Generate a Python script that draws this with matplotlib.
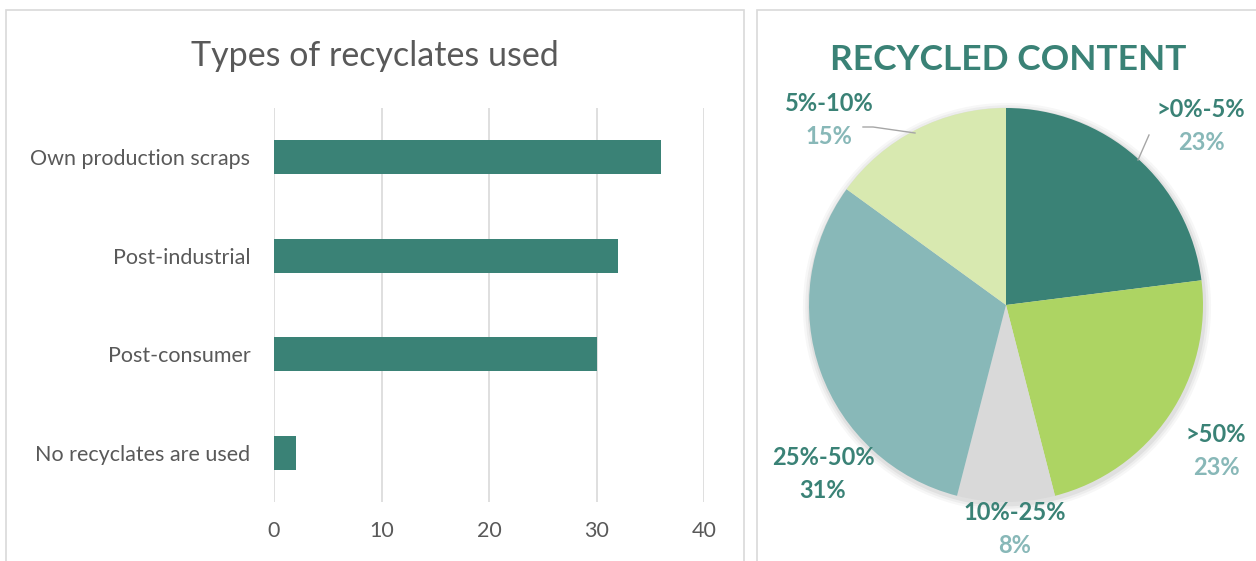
import numpy as np
import matplotlib.pyplot as plt
from matplotlib.patches import Rectangle

plt.rcParams['font.family'] = ['Lato', 'DejaVu Sans']

# bar chart data
types = ["Own production scraps", "Post-industrial", "Post-consumer", "No recyclates are used"]
counts = [36, 32, 30, 2]

# pie chart data (clockwise from 12 o'clock)
content_labels = [">0%-5%", ">50%", "10%-25%", "25%-50%", "5%-10%"]
content_pct = [23, 23, 8, 31, 15]

teal = "#3A8276"
light_teal = "#88B8B8"
pie_colors = [teal, "#ADD463", "#D9D9D9", light_teal, "#D8E9B0"]

W, H = 1256, 561
fig = plt.figure(figsize=(W / 100, H / 100), dpi=100)

# panel frames
for x0, x1 in [(6, 744), (757, 1262)]:
    fig.patches.append(Rectangle((x0 / W, -0.05), (x1 - x0) / W, (H - 10) / H + 0.05,
                                 transform=fig.transFigure, fill=False,
                                 edgecolor="#D9D9D9", linewidth=1.2))

# ---- left: horizontal bars ----
ax = fig.add_axes([274 / W, (H - 502) / H, 430 / W, 394 / H])
y = np.arange(len(types))
ax.barh(y, counts, height=0.35, color=teal, zorder=3)
ax.set_ylim(len(types) - 0.5, -0.5)
ax.set_xlim(0, 40)
ax.set_xticks([0, 10, 20, 30, 40])
ax.set_yticks(y)
ax.set_yticklabels(types)
ax.grid(axis="x", color="#D9D9D9", linewidth=1.2, zorder=0)
for s in ax.spines.values():
    s.set_visible(False)
ax.tick_params(length=0, labelsize=15.5, colors="#595959")
ax.tick_params(axis="x", pad=14)
ax.tick_params(axis="y", pad=17)
fig.text(375 / W, 1 - 56 / H, "Types of recyclates used", ha="center", va="center",
         fontsize=24.5, color="#595959")

# ---- right: pie ----
R = 197
half = 250
pax = fig.add_axes([(1006 - half) / W, (H - 305 - half) / H, 2 * half / W, 2 * half / H])
pax.set_aspect("equal")
pax.axis("off")

# soft shadow under the pie
for i, a in enumerate([0.05, 0.04, 0.03]):
    pax.pie(content_pct, radius=1.0 + 0.012 * (i + 1), startangle=90, counterclock=False,
            colors=["#000000"] * len(content_pct), center=(0.005, -0.01),
            wedgeprops=dict(alpha=a, linewidth=0))
pax.pie(content_pct, radius=1.0, startangle=90, counterclock=False,
        colors=pie_colors, wedgeprops=dict(linewidth=0))
pax.set_xlim(-half / R, half / R)
pax.set_ylim(-half / R, half / R)


def px(x, y):
    # pixel position on the figure -> pie units
    return (x - 1006) / R, (305 - y) / R


# label placement (centre of the two-line label block)
label_pos = [px(1201, 126), px(1216, 451), px(1015, 529), px(823, 474), px(829, 120)]
pct_colors = [light_teal, light_teal, light_teal, teal, light_teal]
for lab, p, (lx, ly), pc in zip(content_labels, content_pct, label_pos, pct_colors):
    pax.text(lx, ly + 0.083, lab, ha="center", va="center", fontsize=17,
             fontweight="bold", color=teal)
    pax.text(lx, ly - 0.083, f"{p}%", ha="center", va="center", fontsize=17,
             fontweight="bold", color=pc)

# leader lines
lx1, ly1 = zip(px(1149, 135), px(1138, 160))
pax.plot(lx1, ly1, color="#A6A6A6", linewidth=1)
lx2, ly2 = zip(px(863, 127), px(873, 127), px(915, 133))
pax.plot(lx2, ly2, color="#A6A6A6", linewidth=1)

fig.text(1008 / W, 1 - 60 / H, "RECYCLED CONTENT", ha="center", va="center",
         fontsize=25.5, fontweight="bold", color=teal)

fig.savefig("out.png", dpi=100)
